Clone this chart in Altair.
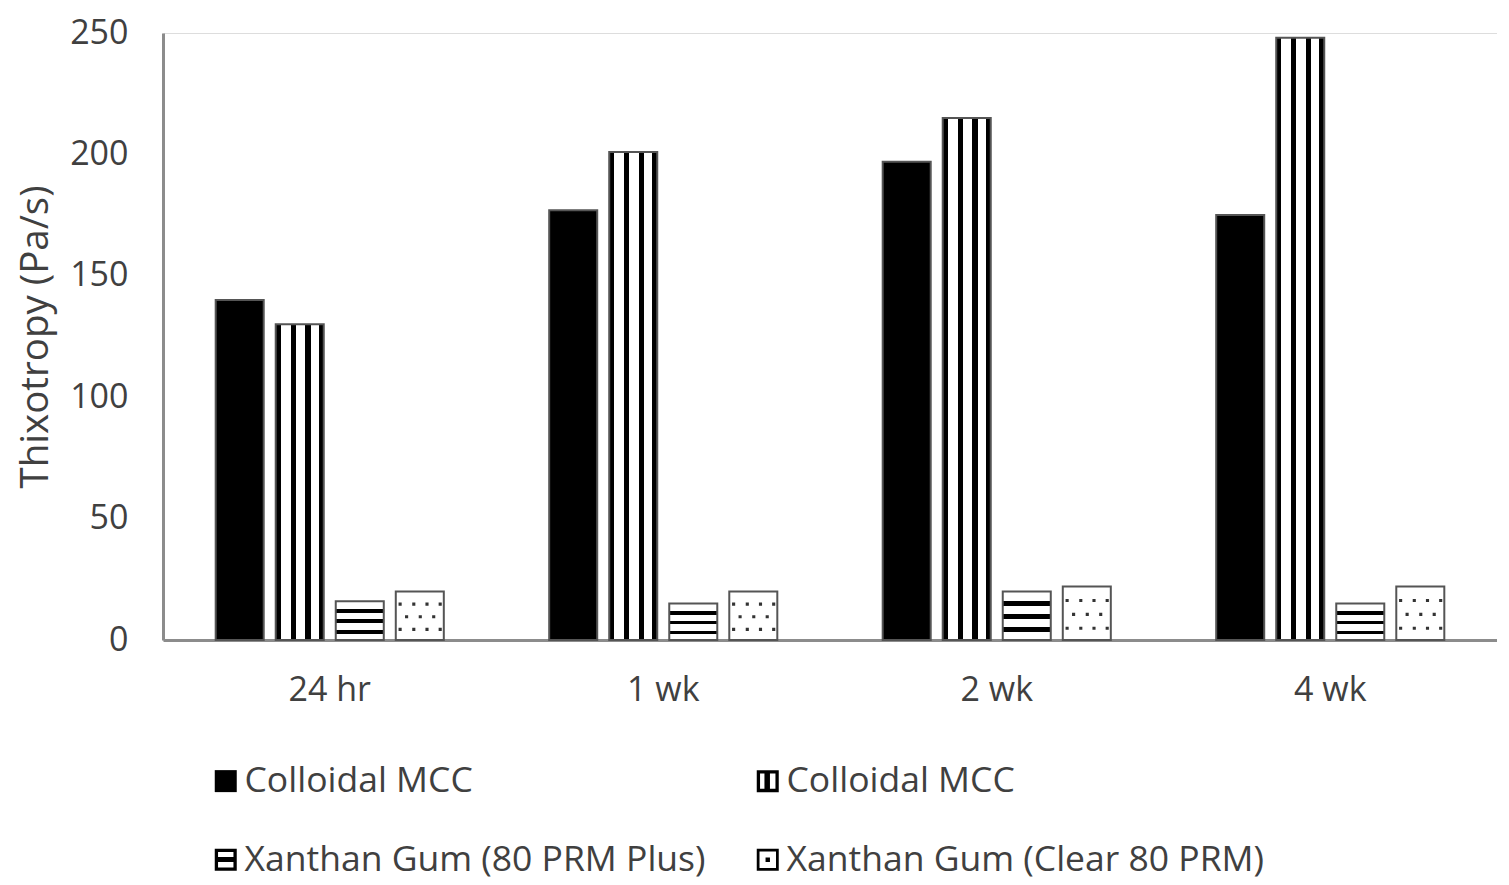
import altair as alt
import pandas as pd

periods = ["24 hr", "1 wk", "2 wk", "4 wk"]
series_keys = ["s1", "s2", "s3", "s4"]
series_labels = ["Colloidal MCC", "Colloidal MCC", "Xanthan Gum (80 PRM Plus)", "Xanthan Gum (Clear 80 PRM)"]
mcc_solid = [140, 177, 197, 175]
mcc_striped = [130, 201, 215, 248]
xg_plus = [16, 15, 20, 15]
xg_clear = [20, 20, 22, 22]

rows = []
for key, vals in zip(series_keys, [mcc_solid, mcc_striped, xg_plus, xg_clear]):
    for p, v in zip(periods, vals):
        rows.append({"period": p, "series": key, "value": v})
df = pd.DataFrame(rows)

FONT = "Open Sans"
TXT = "#404040"
AX = "#8c8c8c"

label_map = "{" + ",".join(f"'{k}':'{l}'" for k, l in zip(series_keys, series_labels)) + "}"


def stops(spec):
    out = []
    for a, b, c in spec:
        out.append(alt.GradientStop(offset=a, color=c))
        out.append(alt.GradientStop(offset=b, color=c))
    return out


v_grad = alt.LinearGradient(
    gradient="linear", x1=0, y1=0, x2=1, y2=0,
    stops=stops([(0, 0.1, "black"), (0.1, 0.31, "white"), (0.31, 0.42, "black"),
                 (0.42, 0.62, "white"), (0.62, 0.73, "black"), (0.73, 0.9, "white"),
                 (0.9, 1, "black")]))
h_grad = alt.LinearGradient(
    gradient="linear", x1=0, y1=0, x2=0, y2=1,
    stops=stops([(0, 0.2, "white"), (0.2, 0.3, "black"), (0.3, 0.47, "white"),
                 (0.47, 0.57, "black"), (0.57, 0.74, "white"), (0.74, 0.84, "black"),
                 (0.84, 1, "white")]))

x_enc = alt.X("period:N", sort=periods,
              scale=alt.Scale(paddingInner=0.28, paddingOuter=0.14),
              axis=alt.Axis(title=None, labelAngle=0, ticks=False, labelPadding=33,
                            labelFontSize=34, labelColor=TXT, labelFont=FONT,
                            domainColor=AX, domainWidth=3))
xo_enc = alt.XOffset("series:N", sort=series_keys,
                     scale=alt.Scale(domain=series_keys, paddingInner=0.2, paddingOuter=0.1))
y_enc = alt.Y("value:Q", scale=alt.Scale(domain=[0, 250], nice=False),
              axis=alt.Axis(title="Thixotropy (Pa/s)", values=[0, 50, 100, 150, 200, 250],
                            grid=False, ticks=False, labelPadding=35, labelFontSize=34,
                            labelColor=TXT, labelFont=FONT, titleFont=FONT,
                            titleFontSize=38.5, titleFontWeight="normal", titleColor=TXT,
                            titlePadding=14, domainColor=AX, domainWidth=3))

base = alt.Chart(df).encode(x=x_enc, xOffset=xo_enc, y=y_enc)

fills = {"s1": "black", "s2": v_grad, "s3": h_grad, "s4": "white"}
layers = []
for k in series_keys:
    layers.append(
        base.transform_filter(alt.datum.series == k)
        .mark_bar(fill=fills[k], stroke="#555555", strokeWidth=2)
    )


def dot_row(xs, h=0.065):
    return " ".join(f"M{x - h:.3f},{-h:.3f}H{x + h:.3f}V{h:.3f}H{x - h:.3f}Z" for x in xs)


# dotted texture for the clear xanthan gum bars (rows placed at fractions of bar height)
dot_rows = [(0.22, dot_row([-0.82, -0.25, 0.3, 0.85])),
            (0.48, dot_row([-0.55, 0.02, 0.58])),
            (0.74, dot_row([-0.82, -0.25, 0.3, 0.85]))]
for frac, path in dot_rows:
    layers.append(
        alt.Chart(df).transform_filter(alt.datum.series == "s4")
        .transform_calculate(dy=f"datum.value * {frac}")
        .mark_point(shape=path, filled=True, fill="#333333", strokeWidth=0, size=2304, opacity=1)
        .encode(x=x_enc, xOffset=xo_enc, y=alt.Y("dy:Q"))
    )

shape_paths = [
    "M-1,-1H1V1H-1Z",
    "M-1,-1H1V1H-1Z M-0.7,-0.7V0.7H0.7V-0.7Z M-0.3,-0.7H0.2V0.7H-0.3Z",
    "M-1,-1H1V1H-1Z M-0.7,-0.7V0.7H0.7V-0.7Z M-0.7,-0.25H0.7V0.2H-0.7Z",
    "M-1,-1H1V1H-1Z M-0.75,-0.75V0.75H0.75V-0.75Z M-0.2,-0.2H0.2V0.2H-0.2Z",
]

legend_layer = alt.Chart(df).mark_point(filled=True, fill="black", opacity=0, size=484).encode(
    x=x_enc, xOffset=xo_enc, y=y_enc,
    shape=alt.Shape("series:N", sort=series_keys,
                    scale=alt.Scale(domain=series_keys, range=shape_paths),
                    legend=alt.Legend(title=None, orient="none", legendX=45, legendY=730,
                                      direction="horizontal",
                                      columns=2, columnPadding=44, rowPadding=42,
                                      labelExpr=f"{label_map}[datum.label]",
                                      labelFont=FONT, labelFontSize=35.5, labelColor=TXT,
                                      labelOffset=1, symbolSize=484, symbolOpacity=1,
                                      symbolFillColor="black", symbolStrokeWidth=0,
                                      padding=0, labelLimit=600)),
)

chart = alt.layer(legend_layer, *layers).properties(
    width=1334, height=607,
    autosize=alt.AutoSizeParams(type="none"),
    padding={"left": 155, "top": 25, "right": 0, "bottom": 245},
).configure_view(stroke=None).configure(background="white")

chart.save("out.html", embed_options={"renderer": "svg", "actions": False})
